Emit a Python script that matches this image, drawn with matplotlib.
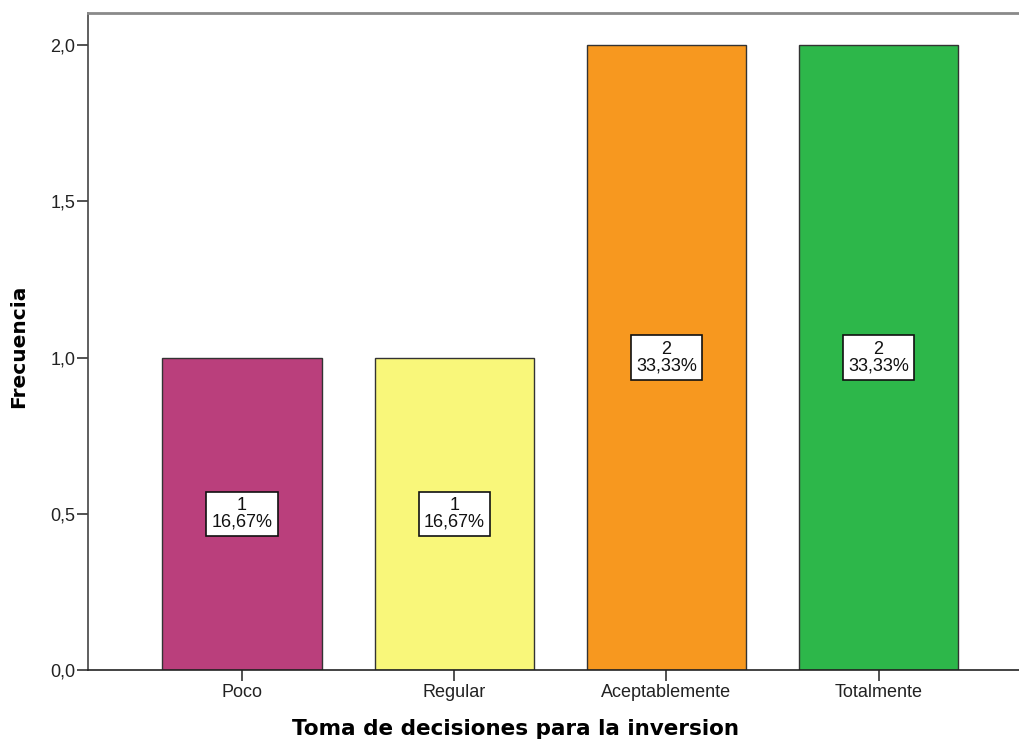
import matplotlib
matplotlib.use("Agg")
import matplotlib.pyplot as plt

categories = ["Poco", "Regular", "Aceptablemente", "Totalmente"]
counts = [1, 1, 2, 2]
percents = ["16,67%", "16,67%", "33,33%", "33,33%"]
colors = ["#BA3F7C", "#F9F77A", "#F7981F", "#2DB74A"]
yticks = [0.0, 0.5, 1.0, 1.5, 2.0]
ytick_labels = ["0,0", "0,5", "1,0", "1,5", "2,0"]

W, H = 1019, 742
fig = plt.figure(figsize=(W / 100, H / 100), dpi=100)
ax = fig.add_axes([88 / W, (H - 670) / H, 1 - 88 / W, (670 - 12.5) / H])

x = list(range(len(categories)))
ax.bar(x, counts, width=0.75, color=colors, edgecolor="#333333", linewidth=1.0, zorder=2)

for xi, c, p in zip(x, counts, percents):
    ax.text(xi, c / 2, f"{c}\n{p}", ha="center", va="center", fontsize=13,
            family="Liberation Sans", linespacing=1.0, color="#111111",
            bbox=dict(boxstyle="square,pad=0.28", facecolor="white", edgecolor="#111111", linewidth=1.2),
            zorder=3)

ax.set_xlim(-0.726, 3.662)
ax.set_ylim(0, 2.104)
ax.set_yticks(yticks)
ax.set_yticklabels(ytick_labels, fontsize=13, family="Liberation Sans", color="#222222")
ax.set_xticks(x)
ax.set_xticklabels(categories, fontsize=13, family="Liberation Sans", color="#222222")
ax.tick_params(axis="y", direction="out", length=8, width=1.2, color="#333333", pad=1)
ax.tick_params(axis="x", direction="out", length=8, width=1.2, color="#333333", pad=2)

ax.spines["right"].set_visible(False)
ax.spines["left"].set_color("#444444")
ax.spines["left"].set_linewidth(1.2)
ax.spines["bottom"].set_color("#222222")
ax.spines["bottom"].set_linewidth(1.2)
ax.spines["top"].set_color("#8a8a8a")
ax.spines["top"].set_linewidth(2.0)

ax.set_ylabel("Frecuencia", fontsize=14.5, fontweight="bold", family="DejaVu Sans")
ax.set_xlabel("Toma de decisiones para la inversion", fontsize=15.5, fontweight="bold", family="DejaVu Sans")
ax.yaxis.set_label_coords((19 - 88) / 931, (670 - 346) / 657.5)
ax.xaxis.set_label_coords((515 - 88) / 931, -(729 - 670) / 657.5)
ax.xaxis.label.set_va("center")
ax.yaxis.label.set_va("center")

fig.savefig("out.png", dpi=100, facecolor="white")
